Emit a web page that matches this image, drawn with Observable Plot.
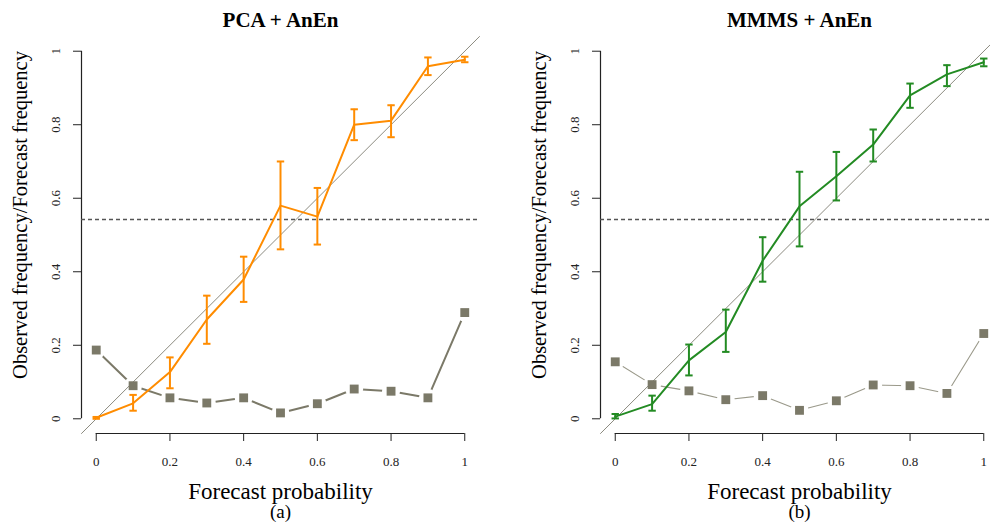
<!DOCTYPE html>
<html>
<head>
<meta charset="utf-8">
<script src="https://cdn.jsdelivr.net/npm/d3@7"></script>
<script src="https://cdn.jsdelivr.net/npm/@observablehq/plot@0.6"></script>
<style>
  html, body { margin: 0; padding: 0; background: white; }
  #wrap { position: relative; width: 990px; height: 524px; overflow: hidden; background: white; }
  #wrap svg { position: absolute; top: 0; font-family: 'Liberation Serif', 'Times New Roman', serif; }
  #wrap svg text { font-family: 'Liberation Serif', 'Times New Roman', serif; }
</style>
</head>
<body>
<div id="wrap"></div>
<script>
// ---- data ----
const probs = [0, 0.1, 0.2, 0.3, 0.4, 0.5, 0.6, 0.7, 0.8, 0.9, 1];
const xTicks = [0, 0.2, 0.4, 0.6, 0.8, 1];
const yTicks = [0, 0.2, 0.4, 0.6, 0.8, 1];
const climatology = 0.542;

const pcaObs  = [0.003, 0.042, 0.127, 0.270, 0.379, 0.580, 0.550, 0.800, 0.811, 0.959, 0.977];
const pcaLo   = [0.000, 0.022, 0.083, 0.204, 0.318, 0.461, 0.474, 0.758, 0.766, 0.935, 0.970];
const pcaHi   = [0.005, 0.065, 0.167, 0.335, 0.441, 0.700, 0.628, 0.842, 0.853, 0.983, 0.985];
const pcaFreq = [0.187, 0.090, 0.057, 0.043, 0.057, 0.016, 0.041, 0.081, 0.075, 0.057, 0.289];

const mmmsObs  = [0.006, 0.040, 0.159, 0.236, 0.430, 0.578, 0.660, 0.746, 0.880, 0.937, 0.970];
const mmmsLo   = [0.001, 0.022, 0.118, 0.182, 0.373, 0.469, 0.594, 0.700, 0.846, 0.905, 0.959];
const mmmsHi   = [0.013, 0.063, 0.202, 0.297, 0.494, 0.672, 0.726, 0.787, 0.912, 0.962, 0.980];
const mmmsFreq = [0.155, 0.093, 0.076, 0.052, 0.063, 0.023, 0.049, 0.092, 0.090, 0.069, 0.232];

const panels = [
  {title: "PCA + AnEn", tag: "(a)", obs: pcaObs, lo: pcaLo, hi: pcaHi, freq: pcaFreq,
   color: "#ff8c00", greyLine: "#7b7968", greyWidth: 2, left: 0},
  {title: "MMMS + AnEn", tag: "(b)", obs: mmmsObs, lo: mmmsLo, hi: mmmsHi, freq: mmmsFreq,
   color: "#238b23", greyLine: "#9a998a", greyWidth: 1.1, left: 519}
];

// ---- drawing ----
const xDomain = [-0.04, 1.04];
const yDomain = [-0.04, 1.04];
const font = "Liberation Serif";
const axisColor = "#222";
const squareColor = "#7b7968";
const fmt = d => String(d);

const capSymbol = {
  draw(ctx, size) {
    const w = Math.sqrt(size / Math.PI);
    ctx.moveTo(-w, 0);
    ctx.lineTo(w, 0);
  }
};

const wrap = document.getElementById("wrap");

for (const p of panels) {
  const rows = probs.map((x, i) => ({x, obs: p.obs[i], lo: p.lo[i], hi: p.hi[i], freq: p.freq[i]}));
  const chart = Plot.plot({
    width: 495,
    height: 524,
    marginLeft: 81,
    marginRight: 16,
    marginTop: 36,
    marginBottom: 91,
    style: {fontFamily: font, background: "white", maxWidth: "none", overflow: "visible"},
    x: {domain: xDomain, axis: null},
    y: {domain: yDomain, axis: null},
    marks: [
      // axes (R style)
      Plot.ruleX([xDomain[0]], {y1: yTicks[0], y2: yTicks[yTicks.length - 1], stroke: axisColor, strokeWidth: 1.2}),
      Plot.ruleY([yDomain[0]], {x1: xTicks[0], x2: xTicks[xTicks.length - 1], stroke: axisColor, strokeWidth: 1.2}),
      Plot.axisY(yTicks, {anchor: "left", tickSize: 8, tickFormat: () => "", stroke: axisColor, label: null}),
      Plot.axisX(xTicks, {anchor: "bottom", tickSize: 8, tickFormat: () => "", stroke: axisColor, label: null}),
      Plot.text(yTicks, {y: d => d, frameAnchor: "left", text: fmt, rotate: -90, dx: -26, lineAnchor: "middle",
        textAnchor: "middle", fontSize: 13, fontFamily: font, fill: "#222"}),
      Plot.text(xTicks, {x: d => d, frameAnchor: "bottom", text: fmt, dy: 28, lineAnchor: "middle",
        textAnchor: "middle", fontSize: 13, fontFamily: font, fill: "#222"}),
      // titles
      Plot.text([p.title], {frameAnchor: "top", dy: -10, lineAnchor: "bottom", fontSize: 21, fontWeight: "bold",
        fontFamily: font, fill: "#000"}),
      Plot.text(["Forecast probability"], {frameAnchor: "bottom", dy: 65.5, lineAnchor: "bottom", fontSize: 23,
        fontFamily: font, fill: "#000"}),
      Plot.text([p.tag], {frameAnchor: "bottom", dy: 84, lineAnchor: "bottom", fontSize: 19,
        fontFamily: font, fill: "#000"}),
      Plot.text(["Observed frequency/Forecast frequency"], {frameAnchor: "left", dx: -54.5, dy: -20, rotate: -90,
        lineAnchor: "bottom", textAnchor: "middle", fontSize: 20.5, fontFamily: font, fill: "#000"}),
      // climatology line
      Plot.ruleY([climatology], {stroke: "#555", strokeWidth: 1.4, strokeDasharray: "4,3"}),
      // forecast frequency (type = "b")
      Plot.line(rows, {x: "x", y: "freq", stroke: p.greyLine, strokeWidth: p.greyWidth}),
      Plot.dot(rows, {x: "x", y: "freq", r: 9, fill: "white", stroke: null}),
      // diagonal
      Plot.line(xDomain, {x: d => d, y: d => d, stroke: "#8c8b80", strokeWidth: 1}),
      // reliability curve with error bars
      Plot.ruleX(rows, {x: "x", y1: "lo", y2: "hi", stroke: p.color, strokeWidth: 2}),
      Plot.dot(rows, {x: "x", y: "lo", symbol: capSymbol, r: 3.7, stroke: p.color, strokeWidth: 2, fill: null}),
      Plot.dot(rows, {x: "x", y: "hi", symbol: capSymbol, r: 3.7, stroke: p.color, strokeWidth: 2, fill: null}),
      Plot.line(rows, {x: "x", y: "obs", stroke: p.color, strokeWidth: 2}),
      // squares
      Plot.dot(rows, {x: "x", y: "freq", symbol: "square", r: 5, fill: squareColor, stroke: null})
    ]
  });
  chart.style.left = p.left + "px";
  wrap.appendChild(chart);
}
</script>
</body>
</html>
